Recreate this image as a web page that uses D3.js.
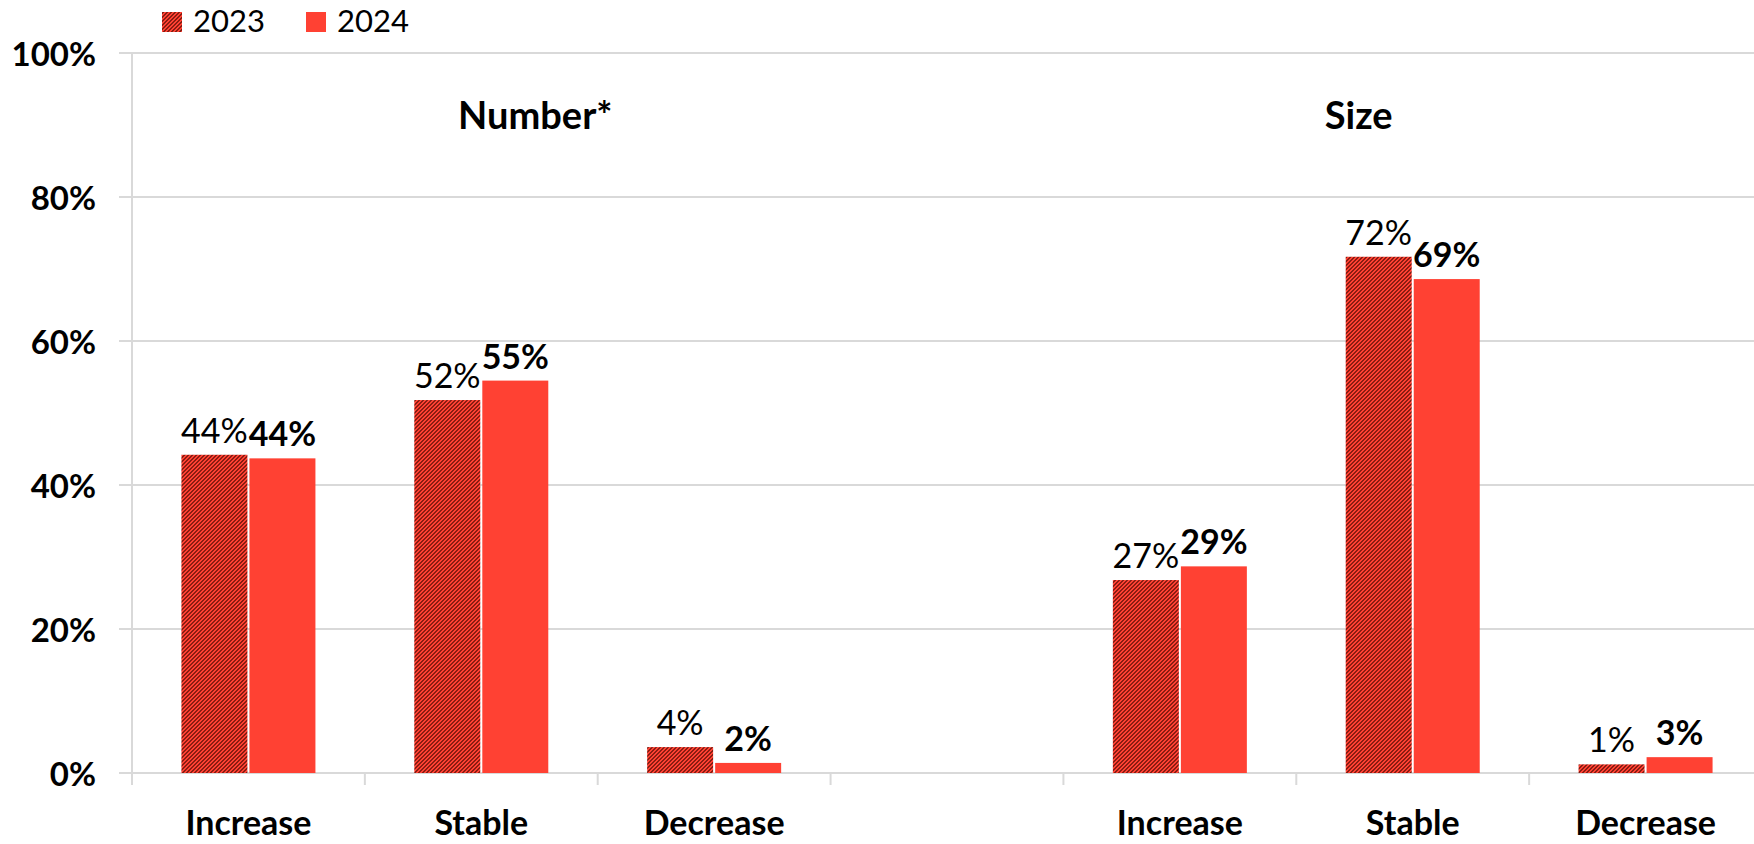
<!DOCTYPE html>
<html>
<head>
<meta charset="utf-8">
<script src="https://cdn.jsdelivr.net/npm/d3@7"></script>
<style>
  html, body { margin: 0; padding: 0; background: #ffffff; }
  svg { display: block; font-family: Lato, "Open Sans", sans-serif; }
</style>
</head>
<body>
<svg id="chart" width="1754" height="844"></svg>
<script>
// ---- data ----
const slots = ["num-inc", "num-sta", "num-dec", "gap", "size-inc", "size-sta", "size-dec"];
const categoryLabels = ["Increase", "Stable", "Decrease", "", "Increase", "Stable", "Decrease"];
const seriesNames = ["2023", "2024"];
const values2023 = [44.2, 51.8, 3.6, null, 26.8, 71.7, 1.2];
const values2024 = [43.7, 54.5, 1.4, null, 28.7, 68.6, 2.2];
const labels2023 = ["44%", "52%", "4%", null, "27%", "72%", "1%"];
const labels2024 = ["44%", "55%", "2%", null, "29%", "69%", "3%"];
const groupTitles = ["Number*", "Size"];
const yTicks = [0, 20, 40, 60, 80, 100];

// ---- layout ----
const W = 1754, H = 844;
const plotLeft = 132, plotRight = 1762, plotTop = 53, plotBottom = 773;
const RED = "#FF4133", DARK = "#8A1D12", GRID = "#D9D9D9";

const svg = d3.select("#chart");

// hatch pattern (pixel-style upward diagonal)
const defs = svg.append("defs");
const pat = defs.append("pattern")
  .attr("id", "hatch").attr("patternUnits", "userSpaceOnUse")
  .attr("width", 4).attr("height", 4);
pat.append("rect").attr("width", 4).attr("height", 4).attr("fill", RED);
const darkPixels = [[2,0],[3,0],[1,1],[2,1],[0,2],[1,2],[3,3],[0,3]];
pat.selectAll("rect.px").data(darkPixels).join("rect")
  .attr("class", "px")
  .attr("x", d => d[0]).attr("y", d => d[1])
  .attr("width", 1).attr("height", 1)
  .attr("fill", DARK).attr("shape-rendering", "crispEdges");

const x = d3.scaleBand().domain(slots).range([plotLeft, plotRight]).padding(0);
const bw = x.bandwidth();
const x1 = d3.scaleBand().domain(seriesNames)
  .range([bw / 2 - 67, bw / 2 + 67]).paddingInner(0.03);
const y = d3.scaleLinear().domain([0, 100]).range([plotBottom, plotTop]);

// gridlines
svg.append("g").selectAll("line").data(yTicks).join("line")
  .attr("x1", plotLeft - 13).attr("x2", plotRight)
  .attr("y1", d => y(d)).attr("y2", d => y(d))
  .attr("stroke", GRID).attr("stroke-width", 2);

// y axis line
svg.append("line")
  .attr("x1", plotLeft).attr("x2", plotLeft)
  .attr("y1", plotTop).attr("y2", plotBottom + 12)
  .attr("stroke", GRID).attr("stroke-width", 2);

// x tick marks at band boundaries
const edges = slots.map(s => x(s)).concat([plotRight]);
svg.append("g").selectAll("line").data(edges).join("line")
  .attr("x1", d => d).attr("x2", d => d)
  .attr("y1", plotBottom).attr("y2", plotBottom + 12)
  .attr("stroke", GRID).attr("stroke-width", 2);

// y tick labels
svg.append("g").selectAll("text").data(yTicks).join("text")
  .attr("x", 96).attr("y", d => y(d))
  .attr("text-anchor", "end").attr("dominant-baseline", "central")
  .attr("font-size", 33).attr("font-weight", 700).attr("fill", "#000")
  .text(d => d + "%");

// bars
const rows = [];
slots.forEach((s, i) => {
  if (values2023[i] != null) rows.push({slot: s, series: "2023", v: values2023[i], label: labels2023[i]});
  if (values2024[i] != null) rows.push({slot: s, series: "2024", v: values2024[i], label: labels2024[i]});
});

svg.append("g").selectAll("rect").data(rows).join("rect")
  .attr("x", d => x(d.slot) + x1(d.series))
  .attr("width", x1.bandwidth())
  .attr("y", d => y(d.v))
  .attr("height", d => y(0) - y(d.v))
  .attr("fill", d => d.series === "2023" ? "url(#hatch)" : RED);

// value labels
svg.append("g").selectAll("text").data(rows).join("text")
  .attr("x", d => x(d.slot) + x1(d.series) + x1.bandwidth() / 2)
  .attr("y", d => y(d.v) - 12)
  .attr("text-anchor", "middle")
  .attr("font-size", 34)
  .attr("font-weight", d => d.series === "2024" ? 700 : 400)
  .attr("fill", "#000")
  .text(d => d.label);

// category labels
svg.append("g").selectAll("text").data(slots).join("text")
  .attr("x", d => x(d) + bw / 2)
  .attr("y", 835)
  .attr("text-anchor", "middle")
  .attr("font-size", 34).attr("font-weight", 700).attr("fill", "#000")
  .text((d, i) => categoryLabels[i]);

// group titles
const titleAnchors = [x("num-sta") + bw / 2 + 54, x("size-sta") + bw / 2 - 54];
svg.append("g").selectAll("text").data(groupTitles).join("text")
  .attr("x", (d, i) => titleAnchors[i])
  .attr("y", 129)
  .attr("text-anchor", "middle")
  .attr("font-size", 38).attr("font-weight", 700).attr("fill", "#000")
  .text(d => d);

// legend
const legend = svg.append("g");
const legX = [162, 306];
seriesNames.forEach((s, i) => {
  legend.append("rect").attr("x", legX[i]).attr("y", 12).attr("width", 20).attr("height", 20)
    .attr("fill", i === 0 ? "url(#hatch)" : RED);
  legend.append("text").attr("x", legX[i] + 31).attr("y", 32)
    .attr("font-size", 31).attr("fill", "#000").text(s);
});
</script>
</body>
</html>
